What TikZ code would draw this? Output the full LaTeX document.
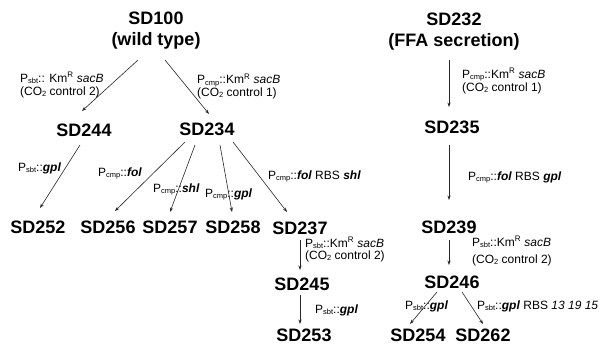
\documentclass[tikz,border=0pt]{standalone}
\usepackage{fontspec}
\setmainfont{Liberation Sans}
\usetikzlibrary{arrows.meta,calc}
\newcommand{\lsub}[1]{\raisebox{-0.25ex}{\fontsize{7.5}{8}\selectfont #1}}
\newcommand{\gene}[1]{\textit{\textbf{#1}}}
\begin{document}
\begin{tikzpicture}[x=1pt,y=-1pt,
  strain/.style={font=\fontsize{18}{21}\selectfont\bfseries, inner sep=0pt, text height=12.9pt, text depth=0pt},
  strain2/.style={font=\fontsize{18}{21}\selectfont\bfseries, inner sep=0pt, align=center},
  lab/.style={font=\fontsize{12}{13}\selectfont, inner sep=0pt, anchor=base west},
  arr/.style={draw=black!85, line width=0.6pt, -{Stealth[length=4.5pt,width=3.2pt]}}]
\useasboundingbox (0,0) rectangle (602,345);
% strains
\node[strain2] (sd100) at (156,31) {SD100\\(wild type)};
\node[strain2] (sd232) at (454,32) {SD232\\(FFA secretion)};
\node[strain] (sd244) at (84,130) {SD244};
\node[strain] (sd234) at (207,129) {SD234};
\node[strain] (sd252) at (38,227) {SD252};
\node[strain] (sd256) at (108,227) {SD256};
\node[strain] (sd257) at (170,227) {SD257};
\node[strain] (sd258) at (233,227) {SD258};
\node[strain] (sd237) at (300,228) {SD237};
\node[strain] (sd245) at (302,284) {SD245};
\node[strain] (sd253) at (304,335) {SD253};
\node[strain] (sd235) at (452,127) {SD235};
\node[strain] (sd239) at (449,227) {SD239};
\node[strain] (sd246) at (452,282) {SD246};
\node[strain] (sd254) at (418,335) {SD254};
\node[strain] (sd262) at (483,335) {SD262};
% connectors
\draw[arr] ($(sd100)+(-18,29)$) -- ($(sd244)+(-2,-19)$);
\draw[arr] ($(sd100)+(9,29)$) -- ($(sd234)+(2,-15)$);
\draw[arr] ($(sd244)+(-4,15)$) -- ($(sd252)+(2,-19)$);
\draw[arr] ($(sd234)+(-22,13)$) -- ($(sd256)+(7,-16)$);
\draw[arr] ($(sd234)+(-12,16)$) -- ($(sd257)+(0,-15)$);
\draw[arr] ($(sd234)+(13,16)$) -- ($(sd258)+(-1,-15)$);
\draw[arr] ($(sd234)+(26,13)$) -- ($(sd237)+(-13,-16)$);
\draw[arr] ($(sd237)+(0,12)$) -- ($(sd245)+(-2,-14)$);
\draw[arr] ($(sd245)+(-2,11)$) -- ($(sd253)+(-4,-11)$);
\draw[arr] ($(sd232)+(-5,28)$) -- ($(sd235)+(-3,-20)$);
\draw[arr] ($(sd235)+(-3,18)$) -- ($(sd239)+(0,-27)$);
\draw[arr] ($(sd239)+(0,13)$) -- ($(sd246)+(-3,-17)$);
\draw[arr] ($(sd246)+(-15,10)$) -- ($(sd254)+(-8,-11)$);
\draw[arr] ($(sd246)+(10,10)$) -- ($(sd262)+(0,-11)$);
% labels
\node[lab] (l1) at (20,82) {P\lsub{sbt}:: Km\textsuperscript{R} \textit{sacB}};
\node[lab] (l2) at (20,95) {(CO\lsub{2} control 2)};
\node[lab] (l3) at (197,84) {P\lsub{cmp}::Km\textsuperscript{R} \textit{sacB}};
\node[lab] (l4) at (197,96) {(CO\lsub{2} control 1)};
\node[lab] (l5) at (18,171) {P\lsub{sbt}::\gene{gpl}};
\node[lab] (l6) at (98,176) {P\lsub{cmp}::\gene{fol}};
\node[lab] (l7) at (153,192) {P\lsub{cmp}::\gene{shl}};
\node[lab] (l8) at (205,197) {P\lsub{cmp}::\gene{gpl}};
\node[lab] (l9) at (268,179) {P\lsub{cmp}::\gene{fol} RBS \gene{shl}};
\node[lab] (l10) at (305,247) {P\lsub{sbt}::Km\textsuperscript{R} \textit{sacB}};
\node[lab] (l11) at (305,259) {(CO\lsub{2} control 2)};
\node[lab] (l12) at (315,313) {P\lsub{sbt}::\gene{gpl}};
\node[lab] (l13) at (462,78) {P\lsub{cmp}::Km\textsuperscript{R} \textit{sacB}};
\node[lab] (l14) at (462,91) {(CO\lsub{2} control 1)};
\node[lab] (l15) at (468,180) {P\lsub{cmp}::\gene{fol} RBS \gene{gpl}};
\node[lab] (l16) at (472,246) {P\lsub{sbt}::Km\textsuperscript{R} \textit{sacB}};
\node[lab] (l17) at (472,263) {(CO\lsub{2} control 2)};
\node[lab] (l18) at (405,309) {P\lsub{sbt}::\gene{gpl}};
\node[lab] (l19) at (477,309) {P\lsub{sbt}::\gene{gpl} RBS \textit{13 19 15}};
\end{tikzpicture}
\end{document}
